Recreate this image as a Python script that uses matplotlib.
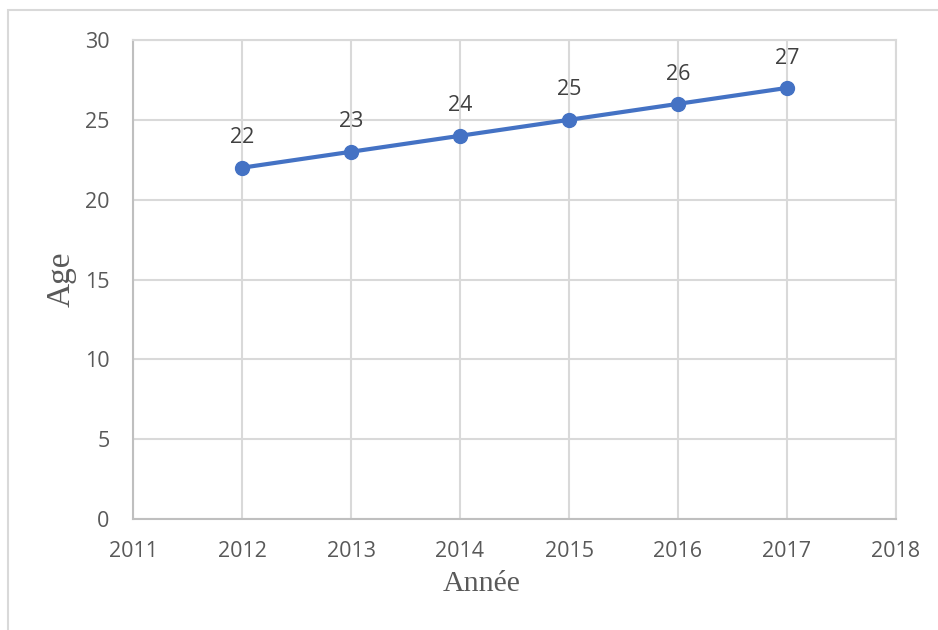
import matplotlib.pyplot as plt
from matplotlib.patches import Rectangle

years = [2012, 2013, 2014, 2015, 2016, 2017]
ages = [22, 23, 24, 25, 26, 27]
x_ticks = [2011, 2012, 2013, 2014, 2015, 2016, 2017, 2018]
y_ticks = [0, 5, 10, 15, 20, 25, 30]

grid_col = '#d9d9d9'
text_col = '#595959'
line_col = '#4472C4'

fig = plt.figure(figsize=(9.38, 6.3), dpi=100)
# outer chart frame
fig.patches.append(Rectangle((8 / 938, -0.1), 1.2, 1 - 10 / 630 + 0.1,
                             transform=fig.transFigure, fill=False,
                             edgecolor=grid_col, linewidth=1.5))

ax = fig.add_axes([133 / 938, 1 - 519 / 630, (896 - 133) / 938, (519 - 40) / 630])
ax.plot(years, ages, color=line_col, linewidth=3, marker='o', markersize=10, zorder=3)
for x, y in zip(years, ages):
    ax.annotate(str(y), (x, y), xytext=(0, 21.5), textcoords='offset points',
                ha='center', va='center', fontsize=15.5, color='#404040',
                family='Open Sans')

ax.set_xlim(2011, 2018)
ax.set_ylim(0, 30)
ax.set_xticks(x_ticks)
ax.set_yticks(y_ticks)
ax.grid(True, color=grid_col, linewidth=1.5)
ax.set_axisbelow(True)
for s in ax.spines.values():
    s.set_color(grid_col)
    s.set_linewidth(1.5)
ax.spines['bottom'].set_color('#bfbfbf')
ax.spines['left'].set_color('#bfbfbf')
ax.tick_params(length=0, labelsize=15.5, labelcolor=text_col)
ax.tick_params(axis='x', pad=16)
ax.tick_params(axis='y', pad=17)
for lab in ax.get_xticklabels() + ax.get_yticklabels():
    lab.set_family('Open Sans')

ax.set_xlabel('Année', family='Liberation Serif', fontsize=21.5, color=text_col)
ax.set_ylabel('Age', family='Liberation Serif', fontsize=24, color=text_col)
ax.xaxis.set_label_coords(482 / 938, 1 - 571 / 630, transform=fig.transFigure)
ax.yaxis.set_label_coords(77 / 938, 1 - 279 / 630, transform=fig.transFigure)

fig.savefig('out.png', dpi=100)
